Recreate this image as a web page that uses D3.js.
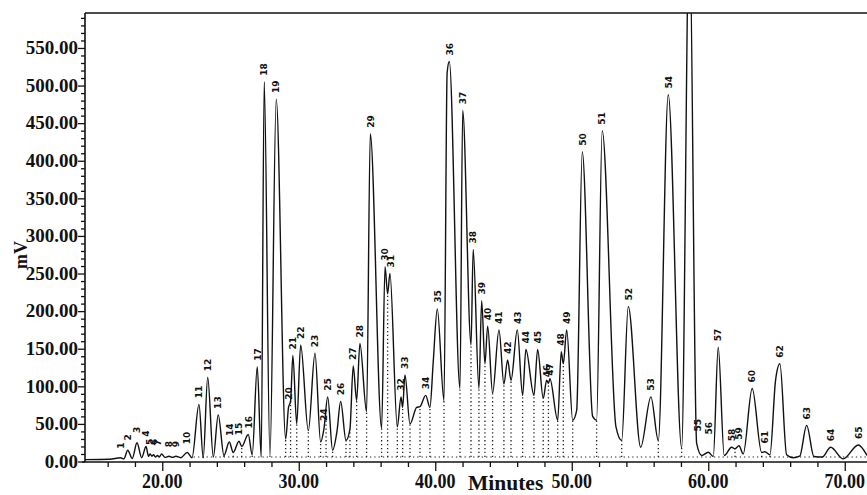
<!DOCTYPE html>
<html><head><meta charset="utf-8">
<script src="https://cdn.jsdelivr.net/npm/d3@7"></script>
<style>body{margin:0;background:#fff;} svg{display:block}</style>
</head><body>
<svg id="c" width="867" height="495"></svg>
<script>
// ---- data (time in minutes, signal in mV) ----
const traceTime = [14.34,16.17,16.94,17.19,17.47,17.80,18.15,18.49,18.81,18.99,19.10,19.25,19.36,19.50,19.65,19.78,19.95,20.20,20.49,20.75,21.00,21.35,21.83,22.18,
  22.69,23.00,23.33,23.74,24.10,24.52,24.91,25.20,25.62,25.82,26.30,26.59,26.96,27.25,27.47,27.89,28.35,29.04,29.25,29.40,29.57,29.85,30.14,30.70,31.19,31.60,31.85,32.12,32.48,32.80,33.07,33.46,33.75,33.99,34.24,34.48,34.97,35.24,36.07,36.32,36.51,36.68,37.22,37.49,37.61,37.78,38.15,38.64,38.88,39.30,39.61,39.85,40.15,40.64,40.87,41.03,41.81,42.01,42.62,42.78,43.20,43.40,43.64,43.84,44.20,44.67,45.03,45.30,45.55,46.01,46.40,46.64,47.23,47.50,47.91,48.16,48.29,48.40,48.97,49.23,49.38,49.63,50.07,50.36,50.77,51.53,51.82,52.23,53.24,53.66,54.14,55.05,55.80,56.34,57.07,58.05,58.62,59.15,59.52,60.00,60.37,60.73,61.17,61.71,61.96,62.25,62.56,63.22,63.91,64.15,64.52,64.93,65.25,65.74,66.23,66.70,67.21,67.74,68.35,68.97,69.89,70.99,71.63];
const traceMV = [2.5,3,5,3.5,15,4,25,5,20,7,10,7,9,6,8,6,10,5.5,7,5.5,7,5,12,5,
  76,5,112,6,62,8,26,12,27,20,36,9,126,6,505,7,482,30,72,80,141,50,155,41,144,26,44,86,15,40,80,28,43,127,81,157,66,436,44,259,223,250,46,86,72,115,50,72,73,88,72,132,203,81,517,532,97,467,155,282,97,214,130,180,91,175,103,135,108,175,88,149,88,149,84,108,104,110,55,146,130,175,55,68,412,60,55,440,46,28,206,19,86,28,488,18,720,24,8,12.4,6.7,152,8,19,17,21,10,97,12,13,9,108,130,9,5,7,48,6.7,6,19,3.5,22,8];

const peakNums = d3.range(1, 66);
const peakTimes = [16.94,17.47,18.15,18.81,19.10,19.36,19.65,20.49,21.00,21.83,22.69,23.33,24.10,24.91,25.62,26.30,26.96,27.47,28.35,29.25,29.57,30.14,31.19,31.85,32.12,33.07,33.99,34.48,35.24,36.32,36.75,37.49,37.78,39.30,40.15,41.03,42.01,42.78,43.40,43.84,44.67,45.30,46.01,46.64,47.50,48.16,48.40,49.23,49.63,50.77,52.23,54.14,55.80,57.07,59.20,60.00,60.73,61.71,62.25,63.22,64.15,65.25,67.21,68.97,70.99];
const peakLabelMV = [9,20,30,25,14,14,13,11,11,15,76,112,62,26,27,36,126,505,482,74,141,155,144,46,86,80,127,157,436,259,250,86,115,88,203,532,467,282,214,180,175,135,175,149,149,104,106,146,175,412,440,206,86,488,32,28,152,19,21,97,16,130,48,19,22];

const dropTimes = [23.00,23.74,24.52,25.20,25.82,26.59,27.25,27.89,29.04,29.40,29.85,30.70,31.60,32.00,32.48,33.46,33.75,34.24,34.97,36.07,36.51,37.22,37.61,38.15,38.88,39.61,40.64,41.81,42.62,43.20,43.64,44.20,45.03,45.55,46.40,47.23,47.91,48.29,48.97,49.38,50.07,51.82,53.66,56.34,58.05,61.96,63.91,64.52];
const dropMV = [5,6,8,12,20,9,6,7,30,80,50,41,26,62,15,28,43,81,66,44,223,46,72,50,73,72,81,97,155,97,130,91,103,108,88,88,84,104,55,130,55,55,28,28,18,17,12,9];
const baselineMV = 6;

const xMajorTicks = [20,30,40,50,60,70];
const xMinorTicks = [16,18,22,24,26,28,32,34,36,38,42,44,46,48,52,54,56,58,62,64,66,68];
const yMajorTicks = d3.range(0, 551, 50);
const yMinorTicks = d3.range(10, 591, 10).filter(d => d % 50 !== 0);

// ---- chart ----
const svg = d3.select("#c");
const pL = 85, pR = 867, pT = 13, pB = 462;
const x = d3.scaleLinear().domain([14.34, 71.63]).range([pL, pR]);
const y = d3.scaleLinear().domain([0, 596.5]).range([461.5, pT]);
const serif = "'Liberation Serif','Times New Roman',serif";

svg.append("defs").append("clipPath").attr("id", "pc")
  .append("rect").attr("x", pL).attr("y", pT).attr("width", pR - pL).attr("height", pB - pT);

// axes ticks
const yMaj = svg.append("g").attr("transform", `translate(${pL},0)`)
  .call(d3.axisLeft(y).tickValues(yMajorTicks).tickSize(7).tickFormat(""));
const yMin = svg.append("g").attr("transform", `translate(${pL},0)`)
  .call(d3.axisLeft(y).tickValues(yMinorTicks).tickSize(4).tickFormat(""));
const xMaj = svg.append("g").attr("transform", `translate(0,${pB})`)
  .call(d3.axisBottom(x).tickValues(xMajorTicks).tickSize(9).tickFormat(""));
const xMin = svg.append("g").attr("transform", `translate(0,${pB})`)
  .call(d3.axisBottom(x).tickValues(xMinorTicks).tickSize(5).tickFormat(""));
[yMaj, yMin, xMaj, xMin].forEach(g => {
  g.select(".domain").remove();
  g.selectAll("line").attr("stroke", "#111").attr("stroke-width", 1.3);
});

// tick labels
svg.append("g").selectAll("text").data(yMajorTicks).join("text")
  .attr("transform", d => `translate(78,${y(d) + 6.3})`)
  .attr("text-anchor", "end")
  .style("font-family", serif).style("font-weight", "bold").style("font-size", "19px")
  .attr("fill", "#111")
  .text(d => d3.format(".2f")(d));

svg.append("g").selectAll("text").data(xMajorTicks).join("text")
  .attr("transform", d => `translate(${x(d)},488) scale(1,1.2)`)
  .attr("text-anchor", "middle")
  .style("font-family", serif).style("font-weight", "bold").style("font-size", "18px")
  .attr("fill", "#111")
  .text(d => d3.format(".2f")(d));

svg.append("text").attr("transform", "translate(468,490)")
  .style("font-family", serif).style("font-weight", "bold").style("font-size", "21.5px")
  .attr("fill", "#111").text("Minutes");

svg.append("text").attr("transform", "translate(27,255) rotate(-90)")
  .attr("text-anchor", "middle")
  .style("font-family", serif).style("font-weight", "bold").style("font-size", "18px")
  .attr("fill", "#111").text("mV");

// baseline and drop lines
svg.append("line")
  .attr("x1", x(22.3)).attr("x2", pR).attr("y1", y(baselineMV)).attr("y2", y(baselineMV))
  .attr("stroke", "#222").attr("stroke-width", 1.2).attr("stroke-dasharray", "1.3,3");
svg.append("g").selectAll("line").data(dropTimes).join("line")
  .attr("x1", d => x(d)).attr("x2", d => x(d))
  .attr("y1", y(baselineMV)).attr("y2", (d, i) => y(dropMV[i]))
  .attr("stroke", "#222").attr("stroke-width", 1.3).attr("stroke-dasharray", "1.3,2.6");

// trace
const pts = traceTime.map((t, i) => [t, traceMV[i]]);
svg.append("path").datum(pts)
  .attr("clip-path", "url(#pc)")
  .attr("fill", "none").attr("stroke", "#111").attr("stroke-width", 1.4).attr("stroke-linejoin", "round")
  .attr("d", d3.line().x(d => x(d[0])).y(d => y(d[1])).curve(d3.curveMonotoneX));

// peak labels
svg.append("g").selectAll("text").data(peakNums).join("text")
  .attr("transform", (d, i) => `translate(${x(peakTimes[i])},${y(peakLabelMV[i]) - 6}) rotate(-90)`)
  .attr("dy", "0.36em")
  .style("font-family", "'DejaVu Sans',sans-serif").style("font-weight", "bold").style("font-size", "9px")
  .attr("fill", "#111")
  .text(d => d);

// frame
const frame = svg.append("g").attr("stroke", "#111").attr("stroke-width", 1.6).attr("fill", "none");
frame.append("line").attr("x1", pL).attr("x2", pR).attr("y1", pT).attr("y2", pT);
frame.append("line").attr("x1", pL).attr("x2", pL).attr("y1", pT).attr("y2", pB);
frame.append("line").attr("x1", 82).attr("x2", pR).attr("y1", pB).attr("y2", pB);
</script>
</body></html>
